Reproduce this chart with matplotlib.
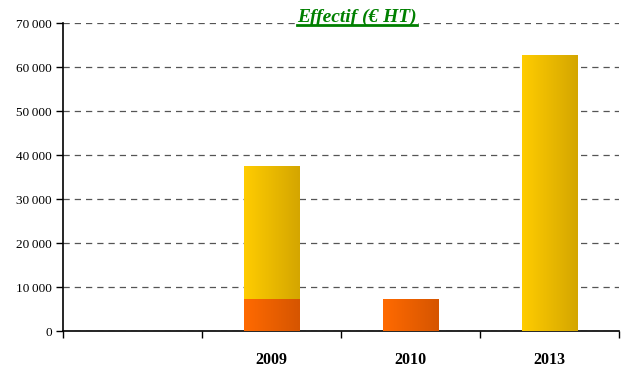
import matplotlib
matplotlib.use('Agg')
import matplotlib.pyplot as plt
import numpy as np
from matplotlib.colors import LinearSegmentedColormap
from matplotlib.lines import Line2D

categories = ['', '2009', '2010', '2013']
orange_vals = [0, 7300, 7300, 0]
yellow_vals = [0, 30300, 0, 62800]
yticks = [0, 10000, 20000, 30000, 40000, 50000, 60000, 70000]

plt.rcParams['font.family'] = ['Liberation Serif', 'DejaVu Serif']

yellow_cmap = LinearSegmentedColormap.from_list('yel', ['#ffcc00', '#d4a600'])
orange_cmap = LinearSegmentedColormap.from_list('ora', ['#ff6a00', '#d65500'])


def fill_gradient(ax, bars, cmap):
    grad = np.linspace(0, 1, 64).reshape(1, -1)
    for b in bars:
        if b.get_height() == 0:
            continue
        x0, y0 = b.get_x(), b.get_y()
        im = ax.imshow(grad, cmap=cmap, aspect='auto', zorder=3,
                       extent=(x0, x0 + b.get_width(), y0, y0 + b.get_height()))
        im.set_clip_path(b)
        b.set_facecolor('none')


fig = plt.figure(figsize=(6.29, 3.70), dpi=100)
ax = fig.add_axes([0.1002, 0.1054, 0.8838, 0.8324])

x = np.arange(len(categories))
width = 0.4
b1 = ax.bar(x, orange_vals, width, color='#ff6a00', zorder=3, linewidth=0)
b2 = ax.bar(x, yellow_vals, width, bottom=orange_vals, color='#ffcc00', zorder=3, linewidth=0)
fill_gradient(ax, b1, orange_cmap)
fill_gradient(ax, b2, yellow_cmap)

ax.set_xlim(-0.5, len(categories) - 0.5)
ax.set_ylim(0, 70000)
ax.set_yticks(yticks)
ax.set_yticklabels([f'{v:,}'.replace(',', '\u2009') for v in yticks], fontsize=9.5)
ax.yaxis.grid(True, linestyle=(0, (5, 4)), color='#555555', linewidth=0.9)
ax.set_axisbelow(True)

# category ticks sit on the boundaries, labels in the middle
ax.set_xticks(np.arange(len(categories) + 1) - 0.5)
ax.set_xticklabels([])
ax.set_xticks(x, minor=True)
ax.set_xticklabels(categories, minor=True, fontsize=11.5, fontweight='bold')
ax.tick_params(axis='x', which='minor', length=0, pad=15)
ax.tick_params(axis='x', which='major', direction='out', length=5, width=1)
ax.tick_params(axis='y', direction='out', length=5, width=1, pad=3)

for s in ['top', 'right']:
    ax.spines[s].set_visible(False)
for s in ['left', 'bottom']:
    ax.spines[s].set_linewidth(1.2)

title = fig.text(0.568, 0.953, 'Effectif (€ HT)', ha='center', va='center',
                 fontsize=14, fontweight='bold', fontstyle='italic', color='#008000',
                 bbox=dict(facecolor='white', edgecolor='none', pad=1))
fig.canvas.draw()
bb = title.get_window_extent().transformed(fig.transFigure.inverted())
uy = bb.y0 + 0.003
fig.add_artist(Line2D([bb.x0, bb.x1], [uy, uy], color='#008000', linewidth=2,
                      transform=fig.transFigure, zorder=10))

fig.savefig('out.png', dpi=100)
